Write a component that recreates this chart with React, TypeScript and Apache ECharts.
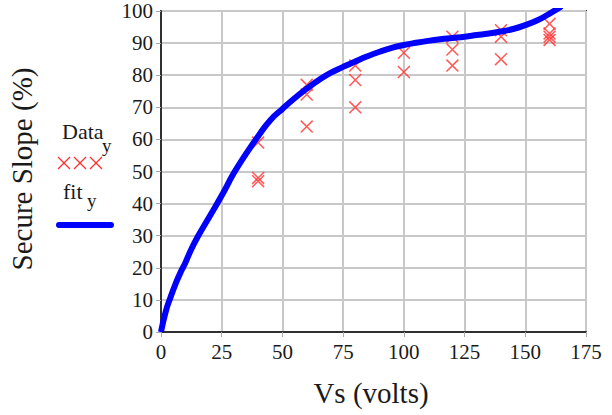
import React, { useEffect, useRef } from "react";
import * as echarts from "echarts";

// Measured data points (Vs volts, secure slope %)
const dataX = [40, 40, 40, 60, 60, 60, 80, 80, 80, 100, 100, 120, 120, 120, 140, 140, 140, 160, 160, 160, 160];
const dataY = [59, 48, 47, 77, 74, 64, 83, 78.5, 70, 87, 81, 92, 88, 83, 94, 92, 85, 96, 93, 92, 91];

// Fitted curve
const fitX = [0, 2, 4, 6, 8, 10, 12, 15, 20, 25, 30, 35, 40, 45, 50, 55, 60, 65, 70, 75, 80, 85, 90, 95, 100, 105, 110, 115, 120, 125, 130, 135, 140, 145, 150, 155, 160, 165];
const fitY = [0, 6.5, 11, 15, 18.5, 21.5, 25, 29.5, 36, 42.5, 49.5, 55.5, 61, 66, 69.5, 72.8, 75.8, 78.5, 80.8, 82.6, 84.3, 85.9, 87.3, 88.5, 89.4, 90.1, 90.7, 91.2, 91.6, 92, 92.5, 93, 93.6, 94.4, 95.6, 97.1, 99.2, 101.5];

const xTicks = [0, 25, 50, 75, 100, 125, 150, 175];

const FONT = "'Liberation Serif', 'Times New Roman', serif";
const RED = "#ff3030";
const BLUE = "#0000ff";
const X_SYMBOL = "path://M0,1 L1,0 L12,11 L11,12 Z M11,0 L12,1 L1,12 L0,11 Z";

export default function App() {
  const ref = useRef<HTMLDivElement>(null);
  useEffect(() => {
    if (!ref.current) return;
    document.body.style.margin = "0";
    const chart = echarts.init(ref.current, null, { renderer: "svg" });
    const xMark = (cx: number, cy: number) => [
      { type: "line", shape: { x1: cx - 6, y1: cy - 6, x2: cx + 6, y2: cy + 6 }, style: { stroke: RED, lineWidth: 1.3 } },
      { type: "line", shape: { x1: cx - 6, y1: cy + 6, x2: cx + 6, y2: cy - 6 }, style: { stroke: RED, lineWidth: 1.3 } },
    ];
    chart.setOption({
      animation: false,
      backgroundColor: "#ffffff",
      textStyle: { fontFamily: FONT },
      grid: { left: 161, right: 26, top: 11, bottom: 83, show: true, borderColor: "#404040", borderWidth: 2, backgroundColor: "transparent" },
      xAxis: {
        type: "value",
        min: 0,
        max: 175,
        interval: 25,
        axisLine: { show: true, lineStyle: { color: "#303030", width: 2 } },
        axisTick: { show: true, length: 5, lineStyle: { color: "#aaaaaa" } },
        splitLine: { show: true, lineStyle: { color: "#c8c8c8", width: 2 } },
        axisLabel: {
          fontFamily: FONT,
          fontSize: 21,
          color: "#1a1a1a",
          margin: 9,
          formatter: (v: number) => (xTicks.includes(v) ? String(v) : ""),
        },
      },
      yAxis: {
        type: "value",
        min: 0,
        max: 100,
        interval: 10,
        axisLine: { show: true, lineStyle: { color: "#303030", width: 2 } },
        axisTick: { show: true, length: 5, lineStyle: { color: "#aaaaaa" } },
        splitLine: { show: true, lineStyle: { color: "#c8c8c8", width: 2 } },
        axisLabel: { fontFamily: FONT, fontSize: 21, color: "#1a1a1a", margin: 8 },
      },
      series: [
        {
          type: "line",
          data: fitX.map((x, i) => [x, fitY[i]]),
          showSymbol: false,
          smooth: true,
          clip: true,
          lineStyle: { color: BLUE, width: 6 },
          z: 2,
        },
        {
          type: "scatter",
          data: dataX.map((x, i) => [x, dataY[i]]),
          symbol: X_SYMBOL,
          symbolSize: 13,
          itemStyle: { color: RED },
          z: 1,
        },
      ],
      graphic: [
        {
          type: "text",
          x: 22,
          y: 169,
          rotation: Math.PI / 2,
          style: { text: "Secure Slope (%)", fontFamily: FONT, fontSize: 29, fill: "#1a1a1a", align: "center", verticalAlign: "middle" },
        },
        {
          type: "text",
          x: 371,
          y: 393,
          style: { text: "Vs (volts)", fontFamily: FONT, fontSize: 29, fill: "#1a1a1a", align: "center", verticalAlign: "middle" },
        },
        { type: "text", x: 62, y: 131, style: { text: "Data", fontFamily: FONT, fontSize: 22, fill: "#1a1a1a", align: "left", verticalAlign: "middle" } },
        { type: "text", x: 102, y: 145, style: { text: "y", fontFamily: FONT, fontSize: 19, fill: "#1a1a1a", align: "left", verticalAlign: "middle" } },
        ...xMark(64, 163),
        ...xMark(80, 163),
        ...xMark(96, 163),
        { type: "text", x: 63, y: 191, style: { text: "fit", fontFamily: FONT, fontSize: 22, fill: "#1a1a1a", align: "left", verticalAlign: "middle" } },
        { type: "text", x: 87, y: 200, style: { text: "y", fontFamily: FONT, fontSize: 19, fill: "#1a1a1a", align: "left", verticalAlign: "middle" } },
        { type: "line", shape: { x1: 59, y1: 225, x2: 111, y2: 225 }, style: { stroke: BLUE, lineWidth: 6, lineCap: "round" } },
      ],
    });
    return () => chart.dispose();
  }, []);
  return <div ref={ref} style={{ width: 612, height: 415 }} />;
}
